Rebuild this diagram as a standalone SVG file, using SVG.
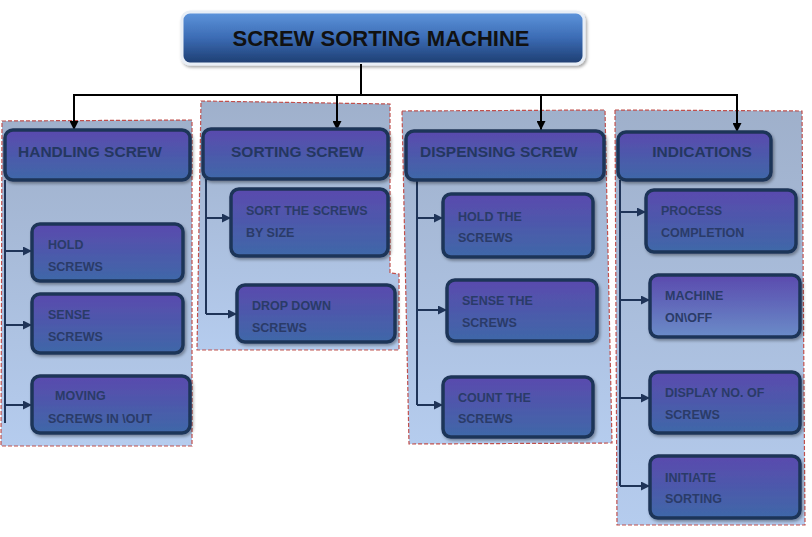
<svg xmlns="http://www.w3.org/2000/svg" width="812" height="537" viewBox="0 0 812 537">
<style>
.panel{fill:url(#pg);stroke:#c0504d;stroke-width:1.2;stroke-dasharray:4 2}
.box{fill:url(#bg);stroke:#1f3458;stroke-width:3.5}
.boxl{fill:url(#bgl);stroke:#1f3458;stroke-width:3.5}
.h{font-family:"Liberation Sans",Arial,sans-serif;font-weight:bold;font-size:15.5px;fill:#243760}
.t{font-family:"Liberation Sans",Arial,sans-serif;font-weight:bold;font-size:12.5px;fill:#2a3b68}
.title{font-family:"Liberation Sans",Arial,sans-serif;font-weight:bold;font-size:22px;fill:#111}
.top{fill:none;stroke:#000;stroke-width:2}
.sub{fill:none;stroke:#1f3458;stroke-width:2}
</style>
<defs>
<linearGradient id="pg" x1="0" y1="0" x2="0" y2="1">
<stop offset="0" stop-color="#9fb0cb"/><stop offset="1" stop-color="#b5ccee"/>
</linearGradient>
<linearGradient id="bg" x1="0" y1="0" x2="0" y2="1">
<stop offset="0" stop-color="#5a4aae"/><stop offset="1" stop-color="#3f68a8"/>
</linearGradient>
<linearGradient id="bgl" x1="0" y1="0" x2="0" y2="1">
<stop offset="0" stop-color="#5a4aae"/><stop offset="1" stop-color="#6a8cc8"/>
</linearGradient>
<linearGradient id="tg" x1="0" y1="0" x2="0" y2="1">
<stop offset="0" stop-color="#5e95dc"/><stop offset="0.5" stop-color="#3b6bb4"/><stop offset="1" stop-color="#1d3d70"/>
</linearGradient>
<filter id="sh" x="-10%" y="-10%" width="130%" height="140%">
<feDropShadow dx="1.5" dy="2" stdDeviation="1.5" flood-color="#000" flood-opacity="0.35"/>
</filter>
<marker id="ab" viewBox="0 0 10 10" refX="10" refY="5" markerWidth="4.5" markerHeight="4.5" orient="auto"><path d="M0,0L10,5L0,10z" fill="#000"/></marker>
<marker id="an" viewBox="0 0 10 10" refX="10" refY="5" markerWidth="4.5" markerHeight="4.5" orient="auto"><path d="M0,0L10,5L0,10z" fill="#1f3458"/></marker>
</defs>

<g id="panels">
<polygon class="panel" points="2,121 192,120 192,446 1,446"/>
<polygon class="panel" points="201,101 390,104 390,273 399,274 399,350 197,350"/>
<polygon class="panel" points="402,111 605,110 612,443 409,444"/>
<polygon class="panel" points="615,110 802,111 805,525 617,525"/>
</g>

<g id="title">
<rect x="182" y="12" width="402" height="52" rx="8" fill="url(#tg)" stroke="#e8eef6" stroke-width="3" filter="url(#sh)"/>
<text class="title" x="381" y="46" text-anchor="middle">SCREW SORTING MACHINE</text>
</g>

<g id="connectors">
<path class="top" d="M361,64V95M73,95H738"/>
<path class="top" d="M74,95V130" marker-end="url(#ab)"/>
<path class="top" d="M337,95V130" marker-end="url(#ab)"/>
<path class="top" d="M541,95V130" marker-end="url(#ab)"/>
<path class="top" d="M737,95V132" marker-end="url(#ab)"/>
<path class="sub" d="M5,180V423"/>
<path class="sub" d="M5,251H32" marker-end="url(#an)"/>
<path class="sub" d="M5,325H32" marker-end="url(#an)"/>
<path class="sub" d="M5,405H32" marker-end="url(#an)"/>
<path class="sub" d="M206,179V314"/>
<path class="sub" d="M206,218H231" marker-end="url(#an)"/>
<path class="sub" d="M206,314H237" marker-end="url(#an)"/>
<path class="sub" d="M417,180V405"/>
<path class="sub" d="M417,218H443" marker-end="url(#an)"/>
<path class="sub" d="M417,310H447" marker-end="url(#an)"/>
<path class="sub" d="M417,405H443" marker-end="url(#an)"/>
<path class="sub" d="M620,180V486"/>
<path class="sub" d="M620,212H646" marker-end="url(#an)"/>
<path class="sub" d="M620,300H650" marker-end="url(#an)"/>
<path class="sub" d="M620,398H650" marker-end="url(#an)"/>
<path class="sub" d="M620,486H650" marker-end="url(#an)"/>
</g>

<g id="handling">
<rect class="box" x="5" y="130" width="185" height="50" rx="8" filter="url(#sh)"/>
<text class="h" x="18" y="157">HANDLING SCREW</text>
</g>
<g id="hold-screws">
<rect class="box" x="32" y="224" width="151" height="57" rx="8" filter="url(#sh)"/>
<text class="t" x="48" y="249">HOLD</text><text class="t" x="48" y="271">SCREWS</text>
</g>
<g id="sense-screws">
<rect class="box" x="32" y="294" width="151" height="59" rx="8" filter="url(#sh)"/>
<text class="t" x="48" y="319">SENSE</text><text class="t" x="48" y="341">SCREWS</text>
</g>
<g id="moving-screws">
<rect class="box" x="32" y="376" width="158" height="57" rx="8" filter="url(#sh)"/>
<text class="t" x="55" y="400">MOVING</text><text class="t" x="48" y="423">SCREWS IN \OUT</text>
</g>

<g id="sorting">
<rect class="box" x="203" y="129" width="185" height="50" rx="8" filter="url(#sh)"/>
<text class="h" x="231" y="157">SORTING SCREW</text>
</g>
<g id="sort-by-size">
<rect class="box" x="231" y="189" width="157" height="67" rx="8" filter="url(#sh)"/>
<text class="t" x="246" y="215">SORT THE SCREWS</text><text class="t" x="246" y="237">BY SIZE</text>
</g>
<g id="drop-down">
<rect class="box" x="237" y="285" width="158" height="57" rx="8" filter="url(#sh)"/>
<text class="t" x="252" y="310">DROP DOWN</text><text class="t" x="252" y="332">SCREWS</text>
</g>

<g id="dispensing">
<rect class="box" x="406" y="131" width="198" height="49" rx="8" filter="url(#sh)"/>
<text class="h" x="420" y="157">DISPENSING SCREW</text>
</g>
<g id="hold-the-screws">
<rect class="box" x="443" y="194" width="150" height="63" rx="8" filter="url(#sh)"/>
<text class="t" x="458" y="221">HOLD THE</text><text class="t" x="458" y="242">SCREWS</text>
</g>
<g id="sense-the-screws">
<rect class="box" x="447" y="280" width="150" height="61" rx="8" filter="url(#sh)"/>
<text class="t" x="462" y="305">SENSE THE</text><text class="t" x="462" y="327">SCREWS</text>
</g>
<g id="count-the-screws">
<rect class="box" x="443" y="377" width="150" height="60" rx="8" filter="url(#sh)"/>
<text class="t" x="458" y="402">COUNT THE</text><text class="t" x="458" y="423">SCREWS</text>
</g>

<g id="indications">
<rect class="box" x="618" y="132" width="153" height="48" rx="8" filter="url(#sh)"/>
<text class="h" x="702" y="157" text-anchor="middle">INDICATIONS</text>
</g>
<g id="process-completion">
<rect class="box" x="646" y="190" width="150" height="62" rx="8" filter="url(#sh)"/>
<text class="t" x="661" y="215">PROCESS</text><text class="t" x="661" y="237">COMPLETION</text>
</g>
<g id="machine-onoff">
<rect class="boxl" x="650" y="275" width="150" height="62" rx="8" filter="url(#sh)"/>
<text class="t" x="665" y="300">MACHINE</text><text class="t" x="665" y="322">ON\OFF</text>
</g>
<g id="display-no">
<rect class="box" x="650" y="372" width="150" height="61" rx="8" filter="url(#sh)"/>
<text class="t" x="665" y="397">DISPLAY NO. OF</text><text class="t" x="665" y="419">SCREWS</text>
</g>
<g id="initiate-sorting">
<rect class="box" x="650" y="456" width="150" height="62" rx="8" filter="url(#sh)"/>
<text class="t" x="665" y="482">INITIATE</text><text class="t" x="665" y="503">SORTING</text>
</g>
</svg>
